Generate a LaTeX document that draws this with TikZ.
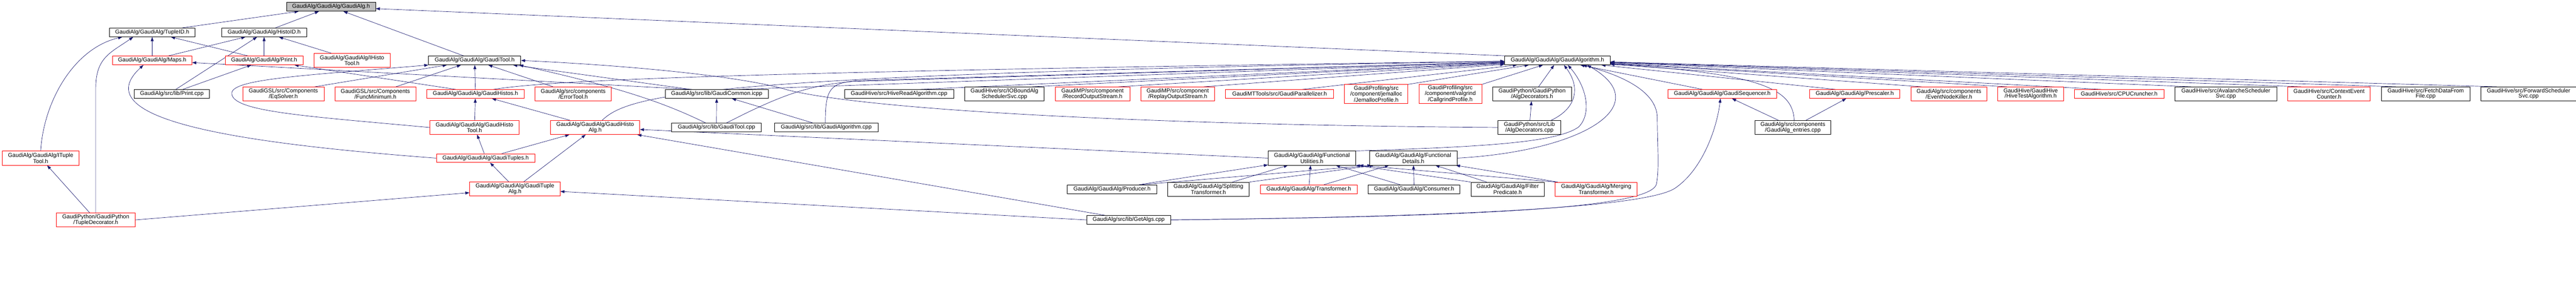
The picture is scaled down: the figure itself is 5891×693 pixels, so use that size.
\documentclass[tikz,border=0pt]{standalone}
\usepackage{fontspec}
\setmainfont{Liberation Sans}
\usetikzlibrary{positioning,arrows.meta,calc}
\definecolor{mynavy}{RGB}{25,25,112}
\definecolor{myred}{RGB}{255,0,0}
\definecolor{mygray}{RGB}{191,191,191}
\pgfdeclarelayer{background}
\pgfsetlayers{background,main}

\begin{document}
\begin{tikzpicture}[x=0.75pt,y=-0.75pt,node distance=18pt,
fileb/.style={
  draw=black,
  fill=white,
  line width=0.7pt,
  inner sep=0pt,
  minimum height=15pt,
  align=center,
  font={\fontsize{9.7}{9}\selectfont}},
redb/.style={fileb,draw=myred},
rootb/.style={fileb,fill=mygray},
two/.style={minimum height=24pt},
three/.style={minimum height=32.25pt},
wd/.style={minimum width=#1*0.75pt},
incl/.style={draw=mynavy,line width=0.6pt,-{Triangle[length=7pt,width=5pt]}},
]
\useasboundingbox (0,0) rectangle (5891,693);
\node[rootb,wd=204] (GAlg) at (757,15.5) {GaudiAlg/GaudiAlg/GaudiAlg.h};
\node[fileb,wd=196] (TupleID) at (348,74) {GaudiAlg/GaudiAlg/TupleID.h};
\node[fileb,wd=194] (HistoID) at (604,74) {GaudiAlg/GaudiAlg/HistoID.h};
\node[redb,wd=182] (Maps) at (348,138) {GaudiAlg/GaudiAlg/Maps.h};
\node[redb,wd=178] (PrintH) at (604,138) {GaudiAlg/GaudiAlg/Print.h};
\node[redb,two,wd=174,right=of PrintH] (IHistoTool) {GaudiAlg/GaudiAlg/IHisto\\Tool.h};
\node[fileb,wd=211] (GTool) at (1085.5,138) {GaudiAlg/GaudiAlg/GaudiTool.h};
\node[fileb,wd=241] (GAlgo) at (3561.5,138) {GaudiAlg/GaudiAlg/GaudiAlgorithm.h};
\node[fileb,wd=172] (PrintCpp) at (393,214.5) {GaudiAlg/src/lib/Print.cpp};
\node[redb,two,wd=186] (EqSolver) at (648,214.5) {GaudiGSL/src/Components\\/EqSolver.h};
\node[redb,two,wd=185,right=of EqSolver] (FuncMin) {GaudiGSL/src/Components\\/FuncMinimum.h};
\node[redb,wd=223,right=of FuncMin] (GHistos) {GaudiAlg/GaudiAlg/GaudiHistos.h};
\node[redb,two,wd=174,right=of GHistos] (ErrorTool) {GaudiAlg/src/components\\/ErrorTool.h};
\node[fileb,wd=236] (GCommon) at (1639,214.5) {GaudiAlg/src/lib/GaudiCommon.icpp};
\node[fileb,wd=250] (HiveRead) at (2056,214.5) {GaudiHive/src/HiveReadAlgorithm.cpp};
\node[fileb,two,wd=182,right=of HiveRead] (IOBound) {GaudiHive/src/IOBoundAlg\\SchedulerSvc.cpp};
\node[redb,two,wd=171,right=of IOBound] (RecordOut) {GaudiMP/src/component\\/RecordOutputStream.h};
\node[redb,two,wd=169,right=of RecordOut] (ReplayOut) {GaudiMP/src/component\\/ReplayOutputStream.h};
\node[redb,wd=247,right=of ReplayOut] (Parallel) {GaudiMTTools/src/GaudiParallelizer.h};
\node[redb,three,wd=145,right=of Parallel] (Jemalloc) {GaudiProfiling/src\\/component/jemalloc\\/JemallocProfile.h};
\node[redb,three,wd=144,right=of Jemalloc] (Callgrind) {GaudiProfiling/src\\/component/valgrind\\/CallgrindProfile.h};
\node[fileb,two,wd=180,right=of Callgrind] (AlgDecH) {GaudiPython/GaudiPython\\/AlgDecorators.h};
\node[redb,wd=249] (GSeq) at (3938.5,214.5) {GaudiAlg/GaudiAlg/GaudiSequencer.h};
\node[redb,wd=207] (Prescaler) at (4241.5,214.5) {GaudiAlg/GaudiAlg/Prescaler.h};
\node[redb,two,wd=174,right=of Prescaler] (NodeKiller) {GaudiAlg/src/components\\/EventNodeKiller.h};
\node[redb,two,wd=150,right=of NodeKiller] (HiveTest) {GaudiHive/GaudiHive\\/HiveTestAlgorithm.h};
\node[redb,wd=205,right=of HiveTest] (CPUCrunch) {GaudiHive/src/CPUCruncher.h};
\node[fileb,two,wd=233,right=of CPUCrunch] (Avalanche) {GaudiHive/src/AvalancheScheduler\\Svc.cpp};
\node[redb,two,wd=189,right=of Avalanche] (CtxCounter) {GaudiHive/src/ContextEvent\\Counter.h};
\node[fileb,two,wd=203,right=of CtxCounter] (FetchData) {GaudiHive/src/FetchDataFrom\\File.cpp};
\node[fileb,two,wd=218,right=of FetchData] (Forward) {GaudiHive/src/ForwardScheduler\\Svc.cpp};
\node[redb,two,wd=204] (GHistoTool) at (1085,291) {GaudiAlg/GaudiAlg/GaudiHisto\\Tool.h};
\node[redb,two,wd=204] (GHistoAlg) at (1361,291) {GaudiAlg/GaudiAlg/GaudiHisto\\Alg.h};
\node[fileb,wd=205] (GToolCpp) at (1638.5,291) {GaudiAlg/src/lib/GaudiTool.cpp};
\node[fileb,wd=237] (GAlgoCpp) at (1889.5,291) {GaudiAlg/src/lib/GaudiAlgorithm.cpp};
\node[fileb,two,wd=143] (AlgDecCpp) at (3497.5,291) {GaudiPython/src/Lib\\/AlgDecorators.cpp};
\node[fileb,two,wd=174] (Entries) at (4100,291) {GaudiAlg/src/components\\/GaudiAlg\_entries.cpp};
\node[redb,two,wd=176] (ITupleTool) at (93,361) {GaudiAlg/GaudiAlg/ITuple\\Tool.h};
\node[redb,wd=225] (GTuples) at (1110.5,361) {GaudiAlg/GaudiAlg/GaudiTuples.h};
\node[fileb,two,wd=200] (FUtil) at (3000,361) {GaudiAlg/GaudiAlg/Functional\\Utilities.h};
\node[fileb,two,wd=200] (FDetails) at (3232,361) {GaudiAlg/GaudiAlg/Functional\\Details.h};
\node[redb,two,wd=207] (GTupleAlg) at (1177.5,431.5) {GaudiAlg/GaudiAlg/GaudiTuple\\Alg.h};
\node[fileb,wd=204] (Producer) at (2543,432) {GaudiAlg/GaudiAlg/Producer.h};
\node[fileb,two,wd=187,right=of Producer] (Splitting) {GaudiAlg/GaudiAlg/Splitting\\Transformer.h};
\node[redb,wd=222,right=of Splitting] (Transformer) {GaudiAlg/GaudiAlg/Transformer.h};
\node[fileb,wd=210,right=of Transformer] (Consumer) {GaudiAlg/GaudiAlg/Consumer.h};
\node[fileb,two,wd=168,right=of Consumer] (FilterPred) {GaudiAlg/GaudiAlg/Filter\\Predicate.h};
\node[redb,two,wd=187,right=of FilterPred] (Merging) {GaudiAlg/GaudiAlg/Merging\\Transformer.h};
\node[redb,two,wd=180] (TupleDec) at (219,502) {GaudiPython/GaudiPython\\/TupleDecorator.h};
\node[fileb,wd=192] (GetAlgs) at (2581,502) {GaudiAlg/src/lib/GetAlgs.cpp};
\begin{pgfonlayer}{background}
\draw[incl] ($(TupleID.north)+(69,0)$) -- (GAlg);
\draw[incl] ($(HistoID.north)+(26,0)$) -- (GAlg);
\draw[incl] ($(GTool.north)+(-25,0)$) -- (GAlg);
\draw[incl] ($(GAlgo.north west)+(4,0)$) -- (GAlg);
\draw[incl] (ITupleTool.north) .. controls (100,230) and (170,110) .. ($(TupleID.south west)+(30,0)$);
\draw[incl] (TupleDec.north) -- ++(0,-285) .. controls +(0,-70) and +(-50,35) .. ($(TupleID.south west)+(55,0)$);
\draw[incl] (Maps) -- (TupleID);
\draw[incl] ($(PrintH.north)+(-37,0)$) -- (TupleID);
\draw[incl] ($(Maps.north)+(37,0)$) -- (HistoID);
\draw[incl] ($(PrintCpp.north)+(9,0)$) -- (HistoID);
\draw[incl] (PrintH) -- (HistoID);
\draw[incl] ($(IHistoTool.north)+(-47,0)$) -- (HistoID);
\draw[incl] ($(PrintCpp.north)+(25,0)$) -- (PrintH);
\draw[incl] ($(GHistos.north)+(-45,0)$) -- (PrintH);
\draw[incl] ($(GCommon.north)+(-56,0)$) -- (Maps);
\draw[incl] (GTuples.west) .. controls (520,325) and (195,270) .. ($(Maps.south)+(-20,0)$);
\draw[incl] ($(TupleDec.north)+(-14,0)$) -- (ITupleTool);
\draw[incl] (TupleDec.east) -- (GTupleAlg);
\draw[incl] ($(EqSolver.north)+(72,0)$) -- (GTool);
\draw[incl] ($(FuncMin.north)+(47,0)$) -- (GTool);
\draw[incl] (GHistos) -- (GTool);
\draw[incl] ($(ErrorTool.north)+(-46,0)$) -- (GTool);
\draw[incl] (GHistoTool.west) .. controls (700,265) and (530,255) .. (530,213) .. controls (530,180) and (700,172) .. (GTool.south west);
\draw[incl] ($(GToolCpp.north)+(-25,0)$) .. controls (1520,235) and (1420,200) .. ($(GTool.south east)+(-4,0)$);
\draw[incl] ($(GCommon.north)+(-60,0)$) -- ($(GTool.south east)+(-18,0)$);
\draw[incl] (AlgDecCpp.west) .. controls (2600,285) and (1980,250) .. (1800,205) .. controls (1700,175) and (1450,150) .. (GTool.east);
\draw[incl] (GHistoTool) -- (GHistos);
\draw[incl] ($(GHistoAlg.north)+(-58,0)$) -- (GHistos);
\draw[incl] ($(GTuples.north)+(-3,0)$) -- (GHistoTool);
\draw[incl] ($(GTuples.north)+(37,0)$) -- (GHistoAlg);
\draw[incl] ($(GTupleAlg.north)+(-14,0)$) -- (GTuples);
\draw[incl] ($(GTupleAlg.north)+(20,0)$) -- (GHistoAlg);
\draw[incl] (FUtil.west) -- (GHistoAlg);
\draw[incl] ($(GetAlgs.north)+(-54,0)$) -- ($(GHistoAlg.south east)+(-6,0)$);
\draw[incl] (GetAlgs.west) -- (GTupleAlg);
\draw[incl] (GToolCpp) -- (GCommon);
\draw[incl] ($(GAlgoCpp.north)+(-31,0)$) -- (GCommon);
\draw[incl] ($(GHistos.north)+(41,0)$) .. controls (1250,185) and (1600,165) .. (GAlgo);
\draw[incl] ($(GHistoAlg.north)+(16,0)$) .. controls (1440,215) and (1600,170) .. (GAlgo);
\draw[incl] ($(GCommon.north)+(48,0)$) -- (GAlgo);
\draw[incl] ($(GToolCpp.north)+(23,0)$) .. controls (1790,215) and (1850,195) .. (1950,186) -- (GAlgo);
\draw[incl] ($(GAlgoCpp.north)+(-2,0)$) .. controls (1887,200) and (1900,190) .. (1960,184) -- (GAlgo);
\draw[incl] ($(HiveRead.north)+(49,0)$) -- (GAlgo);
\draw[incl] ($(IOBound.north)+(64,0)$) -- (GAlgo);
\draw[incl] ($(RecordOut.north)+(60,0)$) -- (GAlgo);
\draw[incl] ($(ReplayOut.north)+(60,0)$) -- (GAlgo);
\draw[incl] ($(Parallel.north)+(52,0)$) -- (GAlgo);
\draw[incl] (Jemalloc.north east) -- (GAlgo);
\draw[incl] (Callgrind.north east) -- (GAlgo);
\draw[incl] ($(AlgDecH.north)+(15,0)$) -- (GAlgo);
\draw[incl] (AlgDecCpp) -- (AlgDecH);
\draw[incl] ($(AlgDecCpp.north east)+(-22,0)$) .. controls (3610,245) and (3612,195) .. ($(GAlgo.south)+(15,0)$);
\draw[incl] (FUtil.north east) .. controls (3400,335) and (3560,325) .. (3610,290) .. controls (3640,260) and (3630,200) .. ($(GAlgo.south)+(24,0)$);
\draw[incl] (FDetails.east) .. controls (3620,345) and (3790,240) .. ($(GAlgo.south)+(68,0)$);
\draw[incl] (GetAlgs.east) .. controls (3300,495) and (3775,480) .. (3788,420) .. controls (3795,385) and (3790,330) .. (3790,270) .. controls (3790,205) and (3700,170) .. ($(GAlgo.south)+(58,0)$);
\draw[incl] (GetAlgs.east) .. controls (3300,495) and (3760,475) .. (3830,430) .. controls (3890,390) and (3925,300) .. ($(GSeq.south)+(-4,0)$);
\draw[incl] ($(GSeq.north)+(-45,0)$) -- (GAlgo);
\draw[incl] ($(Prescaler.north)+(-44,0)$) -- (GAlgo);
\draw[incl] ($(Entries.north)+(-33,0)$) -- (GSeq);
\draw[incl] ($(Entries.north)+(30,0)$) -- (Prescaler);
\draw[incl] ($(Entries.north)+(3,0)$) .. controls (4100,200) and (4020,168) .. (GAlgo);
\draw[incl] ($(NodeKiller.north)+(-63,0)$) -- (GAlgo);
\draw[incl] ($(HiveTest.north)+(-55,0)$) -- (GAlgo);
\draw[incl] ($(CPUCrunch.north)+(-41,0)$) -- (GAlgo);
\draw[incl] ($(Avalanche.north)+(-80,0)$) -- (GAlgo);
\draw[incl] ($(CtxCounter.north)+(-64,0)$) -- (GAlgo);
\draw[incl] ($(FetchData.north)+(-68,0)$) -- (GAlgo);
\draw[incl] ($(Forward.north)+(-73,0)$) -- (GAlgo);
\draw[incl] ($(Producer.north)+(62,0)$) -- (FUtil);
\draw[incl] ($(Producer.north)+(67,0)$) -- ($(FDetails.south west)+(5,0)$);
\draw[incl] ($(Splitting.north)+(55,0)$) -- (FUtil);
\draw[incl] (Splitting.north east) -- ($(FDetails.south west)+(10,0)$);
\draw[incl] ($(Transformer.north)+(1,0)$) -- ($(FUtil.south)+(-3,0)$);
\draw[incl] ($(Transformer.north)+(35,0)$) -- (FDetails);
\draw[incl] ($(Consumer.north)+(-32,0)$) -- (FUtil);
\draw[incl] (Consumer) -- (FDetails);
\draw[incl] (FilterPred.north west) -- (FUtil.south east);
\draw[incl] ($(FilterPred.north)+(-48,0)$) -- (FDetails);
\draw[incl] ($(Merging.north west)+(2,0)$) -- ($(FUtil.south east)+(8,0)$);
\draw[incl] ($(Merging.north west)+(6,0)$) -- ($(FDetails.south east)+(-3,0)$);
\end{pgfonlayer}
\end{tikzpicture}
\end{document}
